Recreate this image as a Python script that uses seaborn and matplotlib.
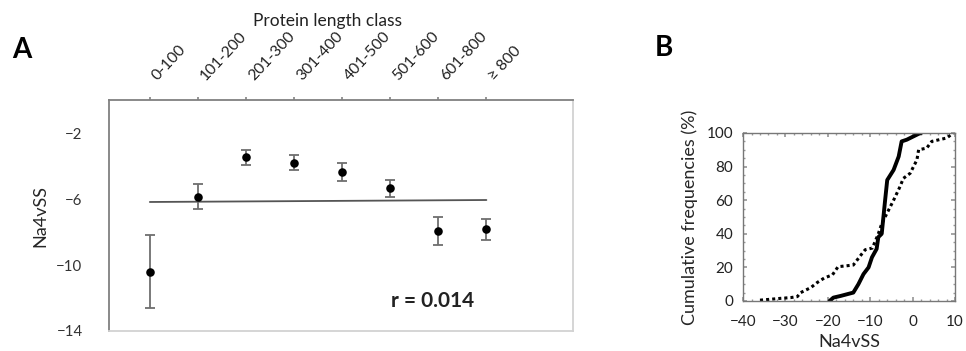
import matplotlib.pyplot as plt
import numpy as np
import pandas as pd
import seaborn as sns
from matplotlib.ticker import AutoMinorLocator

# panel A: mean Na4vSS per protein length class
length_class = ["0-100", "101-200", "201-300", "301-400", "401-500",
                "501-600", "601-800", "≥ 800"]
na4vss_mean = [-10.4, -5.86, -3.46, -3.8, -4.38, -5.36, -7.94, -7.84]
na4vss_err = [2.2, 0.77, 0.46, 0.45, 0.54, 0.53, 0.85, 0.64]
trend_ends = [-6.18, -6.06]
r_label = "r = 0.014"

# panel B: cumulative frequency curves
solid_x = [-19.6, -18.7, -17.0, -14.0, -12.8, -11.6, -10.4, -9.6, -8.5, -8.1,
           -7.3, -6.9, -6.5, -6.0, -4.5, -3.3, -2.6, -1.4, 1.4, 2.0]
solid_pct = [0, 2, 3, 5, 10, 16, 20, 26, 31, 38,
             40, 50, 60, 72, 78, 86, 95, 96, 99.5, 100]
dotted_x = [-36.0, -33.6, -31.0, -28.8, -27.2, -26.4, -24.0, -22.5, -20.9, -18.9,
            -17.6, -15.4, -14.0, -12.0, -11.2, -9.5, -8.1, -7.3, -5.7, -4.5,
            -3.0, -2.2, -0.6, 1.0, 1.4, 3.3, 4.5, 8.0, 9.6]
dotted_pct = [0.5, 1, 1.6, 2, 2.6, 5, 8, 11, 13.6, 15.6,
              20.4, 21, 21.4, 28, 30.5, 31.5, 40, 46, 54, 60,
              68, 73, 76, 84, 90, 91, 95, 97, 100]

sns.set_theme(style="white")
plt.rcParams["font.family"] = ["Lato", "DejaVu Sans"]
plt.rcParams["text.color"] = "#222222"

fig = plt.figure(figsize=(9.66, 3.51), dpi=100)
axA = fig.add_axes([0.1128, 0.057, 0.4803, 0.658])
axB = fig.add_axes([0.7692, 0.1425, 0.2195, 0.4786])

# ---- A
df = pd.DataFrame({"pos": np.arange(len(length_class)),
                   "mean": na4vss_mean, "err": na4vss_err})
axA.errorbar(df["pos"], df["mean"], yerr=df["err"], fmt="none", ecolor="#6e6e6e",
             elinewidth=1.3, capsize=3.5, capthick=1.3, zorder=2)
sns.scatterplot(df, x="pos", y="mean", color="black", s=38, linewidth=0,
                ax=axA, zorder=3)
axA.plot([df["pos"].iloc[0], df["pos"].iloc[-1]], trend_ends, color="#555555", lw=1.3,
         zorder=1)
axA.set_xlim(-0.85, 8.8)
axA.set_ylim(-14, 0)
axA.set_yticks([-14, -10, -6, -2])
axA.xaxis.tick_top()
axA.set_xticks(df["pos"])
axA.set_xticklabels(length_class, rotation=47, ha="left", va="top",
                    rotation_mode="anchor", fontsize=11.3)
axA.tick_params(axis="x", length=2, pad=17, colors="#888888", labelcolor="#222222")
axA.tick_params(axis="y", length=5, width=1, pad=14, colors="#888888",
                labelcolor="#333333", labelsize=10.8)
axA.set(xlabel="", ylabel="")
axA.set_ylabel("Na4vSS", fontsize=13, labelpad=6)
for side, col in (("left", "#808080"), ("top", "#808080"),
                  ("right", "#d2d2d2"), ("bottom", "#d2d2d2")):
    axA.spines[side].set_color(col)
    axA.spines[side].set_linewidth(1.3)
axA.text(0.698, 0.13, r_label, transform=axA.transAxes, ha="center", va="center",
         fontsize=15, fontweight="bold")

fig.text(0.3395, 0.94, "Protein length class", ha="center", va="center", fontsize=12.5)
fig.text(22 / 966, 1 - 50 / 351, "A", ha="center", va="center", fontsize=20,
         fontweight="bold", color="black")
fig.text(664 / 966, 1 - 48 / 351, "B", ha="center", va="center", fontsize=20,
         fontweight="bold", color="black")

# ---- B
sns.lineplot(x=solid_x, y=solid_pct, ax=axB, color="black", lw=2.8,
             sort=False, estimator=None)
sns.lineplot(x=dotted_x, y=dotted_pct, ax=axB, color="black", lw=2.2,
             linestyle=(0, (1, 1)), dash_capstyle="butt", sort=False, estimator=None)
axB.set_xlim(-40, 10)
axB.set_ylim(0, 100)
axB.set_xticks(np.arange(-40, 11, 10))
axB.set_yticks(np.arange(0, 101, 20))
axB.xaxis.set_minor_locator(AutoMinorLocator(5))
axB.yaxis.set_minor_locator(AutoMinorLocator(4))
axB.tick_params(which="both", direction="in", top=True, right=True, bottom=True,
                left=True, colors="#999999", labelcolor="#222222")
axB.tick_params(which="major", length=3, labelsize=11)
axB.tick_params(axis="x", which="major", pad=10)
axB.tick_params(axis="y", which="major", pad=7)
axB.tick_params(which="minor", length=1.5)
axB.set_xlabel("Na4vSS", fontsize=13, labelpad=4)
axB.set_ylabel("Cumulative frequencies (%)", fontsize=13, labelpad=6)
for sp in axB.spines.values():
    sp.set_color("#777777")
    sp.set_linewidth(1)

fig.savefig("out.png", dpi=100, facecolor="white")
